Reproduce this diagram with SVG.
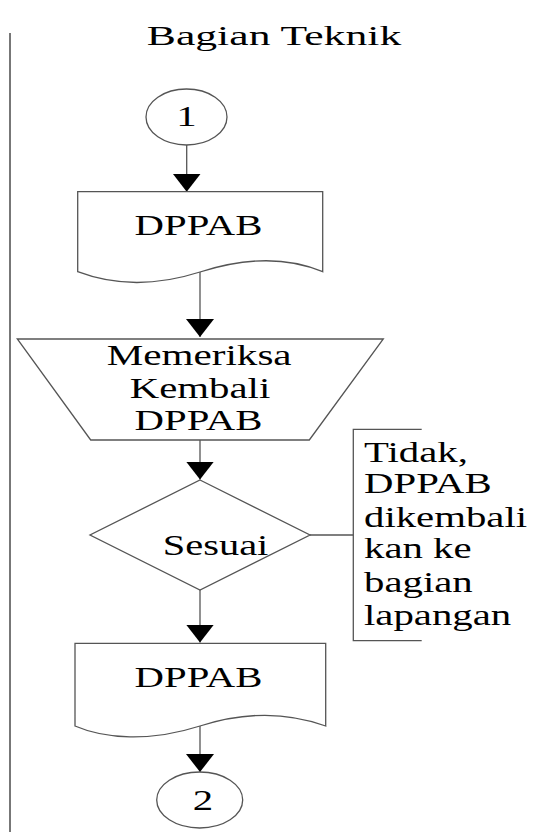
<svg xmlns="http://www.w3.org/2000/svg" width="560" height="832" viewBox="0 0 560 832">
<style>
.s{fill:#fff;stroke:#555;stroke-width:1.3}
.c{fill:none;stroke:#555;stroke-width:1.3}
.t{font-size:30px}
.h{font-size:28px}
.m{text-anchor:middle}
</style>
<defs>
<marker id="ah" viewBox="0 0 18 28" refX="18" refY="14" markerWidth="18" markerHeight="28" markerUnits="userSpaceOnUse" orient="auto">
<path d="M0,0 L18,14 L0,28 z" fill="#000"/>
</marker>
</defs>
<rect width="560" height="832" fill="#fff"/>
<line x1="10" y1="33" x2="10" y2="832" stroke="#777" stroke-width="2"/>
<g font-family="Liberation Serif, serif" fill="#000">
<text class="h m" transform="translate(274,45) scale(1.56,1)">Bagian Teknik</text>
</g>

<g id="connectors">
<line class="c" x1="186.7" y1="145" x2="186.7" y2="191.7" marker-end="url(#ah)"/>
<line class="c" x1="200" y1="272" x2="200" y2="337" marker-end="url(#ah)"/>
<line class="c" x1="200" y1="440" x2="200" y2="479.5" marker-end="url(#ah)"/>
<line class="c" x1="200" y1="590" x2="200" y2="642.5" marker-end="url(#ah)"/>
<line class="c" x1="200" y1="726" x2="200" y2="772" marker-end="url(#ah)"/>
<line class="c" x1="310" y1="535" x2="353.3" y2="535"/>
</g>

<g id="start" font-family="Liberation Serif, serif" fill="#000">
<ellipse class="s" cx="186.5" cy="117" rx="40.5" ry="28"/>
<text class="t m" transform="translate(186.5,126) scale(1.36,1)">1</text>
</g>

<g id="doc1" font-family="Liberation Serif, serif" fill="#000">
<path class="s" d="M77.7,271.7 V191.7 H322.7 V271.7 C290,258 250,256 200,272 C150,288 110,284 77.7,271.7 Z"/>
<text class="t m" transform="translate(198.5,235) scale(1.36,1)">DPPAB</text>
</g>

<g id="manual" font-family="Liberation Serif, serif" fill="#000">
<polygon class="s" points="17.3,339 383.3,339 309.3,440 90.7,440"/>
<text class="t m" transform="translate(199.2,365) scale(1.37,1)">Memeriksa</text>
<text class="t m" transform="translate(200,398) scale(1.36,1)">Kembali</text>
<text class="t m" transform="translate(198.5,430) scale(1.36,1)">DPPAB</text>
</g>

<g id="decision" font-family="Liberation Serif, serif" fill="#000">
<polygon class="s" points="200,480 310,535 200,590 90,535"/>
<text class="t m" transform="translate(215.5,555) scale(1.35,1)">Sesuai</text>
</g>

<g id="note" font-family="Liberation Serif, serif" fill="#000">
<path class="c" d="M421.7,429.3 H353.3 V640.7 H421.7"/>
<text class="t" transform="translate(364,461.7) scale(1.36,1)">Tidak,</text>
<text class="t" transform="translate(364,493) scale(1.36,1)">DPPAB</text>
<text class="t" transform="translate(364,526.7) scale(1.36,1)">dikembali</text>
<text class="t" transform="translate(364,558) scale(1.36,1)">kan ke</text>
<text class="t" transform="translate(364,591.7) scale(1.36,1)">bagian</text>
<text class="t" transform="translate(364,625) scale(1.36,1)">lapangan</text>
</g>

<g id="doc2" font-family="Liberation Serif, serif" fill="#000">
<path class="s" d="M75,726 V643.3 H325.7 V726 C290,713 250,710 200,726 C150,742 105,739 75,726 Z"/>
<text class="t m" transform="translate(198.5,686.7) scale(1.36,1)">DPPAB</text>
</g>

<g id="end" font-family="Liberation Serif, serif" fill="#000">
<ellipse class="s" cx="199.7" cy="800" rx="43" ry="28"/>
<text class="t m" transform="translate(203,810) scale(1.36,1)">2</text>
</g>
</svg>
